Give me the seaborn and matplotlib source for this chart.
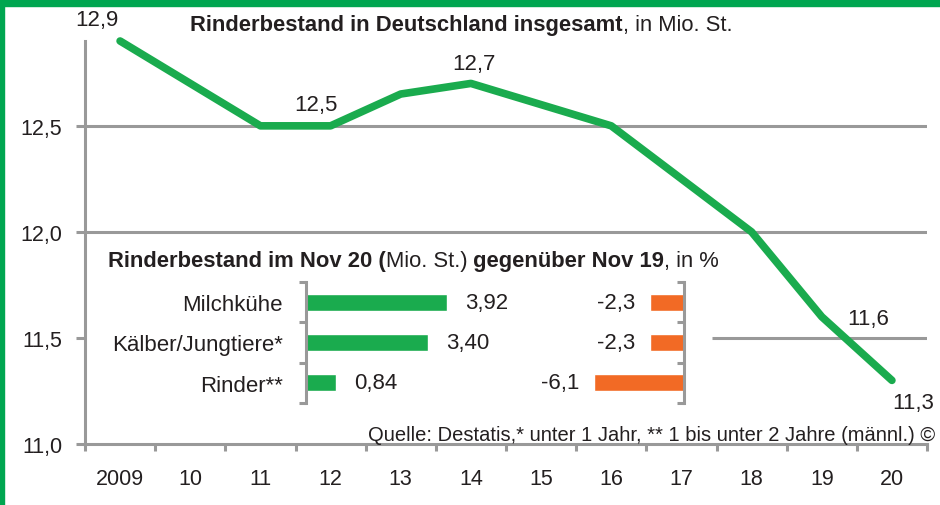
import numpy as np
import pandas as pd
import matplotlib.pyplot as plt
import seaborn as sns
from matplotlib.patches import Rectangle

# ---------------------- DATA ----------------------
years = ["2009", "10", "11", "12", "13", "14", "15", "16", "17", "18", "19", "20"]
bestand = [12.9, 12.7, 12.5, 12.5, 12.65, 12.7, 12.6, 12.5, 12.25, 12.0, 11.6, 11.3]
y_ticks = [11.0, 11.5, 12.0, 12.5]

kategorien = ["Milchkühe", "Kälber/Jungtiere*", "Rinder**"]
bestand_nov20 = [3.92, 3.40, 0.84]
veraenderung = [-2.3, -2.3, -6.1]

GREEN = "#1aab4e"
FRAME = "#00a650"
ORANGE = "#f26a25"
GRAY = "#999999"
TXT = "#231f20"

sns.set_theme(style="white")
plt.rcParams['font.family'] = ['Liberation Sans Narrow', 'DejaVu Sans Condensed',
                               'Liberation Sans', 'DejaVu Sans']
plt.rcParams['text.color'] = TXT

W, H = 940, 506
fs = 15.5     # axis ticks
fs_in = 16    # inset labels / values
fs_title = 15.8


def fmt(v, nd=1):
    return f"{v:.{nd}f}".replace(".", ",")


def rich(ax, x, y, parts, size):
    # x, y in figure pixels (y from top), parts = [(text, weight), ...]
    t = ax.annotate(parts[0][0], xy=(x, H - y), xycoords='figure pixels',
                    fontsize=size, weight=parts[0][1], va='center', ha='left',
                    annotation_clip=False)
    for s, w in parts[1:]:
        t = ax.annotate(s, xy=(1, 0), xycoords=t, fontsize=size, weight=w,
                        va='bottom', ha='left', annotation_clip=False)


fig = plt.figure(figsize=(W / 100, H / 100), dpi=100)

# ---------------------- MAIN LINE CHART ----------------------
ax = fig.add_axes([85 / W, 61 / H, 842 / W, 403 / H])
df = pd.DataFrame({"pos": np.arange(len(years)), "bestand": bestand})
sns.lineplot(data=df, x="pos", y="bestand", color=GREEN, lw=5.5, ax=ax,
             solid_capstyle='round', solid_joinstyle='round', clip_on=False, zorder=5)

ax.set_xlim(-0.5, len(years) - 0.5)
ax.set_ylim(11.0, 12.9)
ax.set_xlabel("")
ax.set_ylabel("")
ax.set_xticks(np.arange(len(years)))
ax.set_xticklabels(years)
ax.set_xticks(np.arange(-0.5, len(years)), minor=True)
ax.set_yticks(y_ticks)
ax.set_yticklabels([fmt(v) for v in y_ticks])
ax.tick_params(axis='x', which='major', length=0, pad=17, labelsize=fs, labelcolor=TXT)
ax.tick_params(axis='x', which='minor', bottom=True, length=5, width=2.2, color=GRAY, direction='out')
ax.tick_params(axis='y', left=True, length=6.5, width=2.2, color=GRAY, pad=10, labelsize=fs, labelcolor=TXT)
for side in ['top', 'right']:
    ax.spines[side].set_visible(False)
for side in ['left', 'bottom']:
    ax.spines[side].set_color(GRAY)
    ax.spines[side].set_linewidth(2.2)

ax.axhline(12.5, color=GRAY, lw=2.2, zorder=1)
ax.axhline(12.0, color=GRAY, lw=2.2, zorder=1)
ax.hlines(11.5, 8.44, len(years) - 0.5, color=GRAY, lw=2.2, zorder=1)

# point labels
label_offsets = {0: (-23, 21), 3: (-15, 21), 5: (3, 20), 10: (46, -2), 11: (21, -22)}
for i, (dx, dy) in label_offsets.items():
    ax.annotate(fmt(bestand[i]), xy=(i, bestand[i]), xytext=(dx, dy),
                textcoords='offset pixels', ha='center', va='center',
                fontsize=fs_in, annotation_clip=False)

# titles
rich(ax, 190, 26, [("Rinderbestand in Deutschland insgesamt", 'bold'), (", in Mio. St.", 'normal')], fs_title)
rich(ax, 108, 262, [("Rinderbestand im Nov 20 (", 'bold'), ("Mio. St.)", 'normal'),
                    (" gegenüber Nov 19", 'bold'), (", in %", 'normal')], fs_title)

ax.annotate("Quelle: Destatis,* unter 1 Jahr, ** 1 bis unter 2 Jahre (männl.) ©",
            xy=(935, H - 441), xycoords='figure pixels', ha='right', va='baseline',
            fontsize=14.5, annotation_clip=False)

# ---------------------- INSET: BESTAND NOV 20 ----------------------
axl = fig.add_axes([306 / W, (H - 404) / H, 162 / W, 121 / H])
sns.barplot(x=bestand_nov20, y=kategorien, orient='h', color=GREEN, saturation=1,
            width=0.42, ax=axl)
axl.set_xlim(0, 4.5)
axl.set_ylim(2.5, -0.5)
axl.patch.set_alpha(0)
axl.set_xticks([])
axl.set_xlabel("")
axl.set_ylabel("")
axl.set_yticks(np.arange(-0.5, 3), minor=True)
axl.tick_params(axis='y', which='major', length=0, pad=16.5, labelsize=fs_in, labelcolor=TXT)
axl.tick_params(axis='y', which='minor', left=True, length=5, width=2.2, color=GRAY, direction='out')
for side in ['top', 'right', 'bottom']:
    axl.spines[side].set_visible(False)
axl.spines['left'].set_color(GRAY)
axl.spines['left'].set_linewidth(2.2)
for i, v in enumerate(bestand_nov20):
    axl.annotate(fmt(v, 2), xy=(v, i), xytext=(18, 0), textcoords='offset pixels',
                 ha='left', va='center', fontsize=fs_in, annotation_clip=False)

# ---------------------- INSET: VERAENDERUNG ----------------------
axr = fig.add_axes([566 / W, (H - 404) / H, 118 / W, 121 / H])
sns.barplot(x=veraenderung, y=kategorien, orient='h', color=ORANGE, saturation=1,
            width=0.42, ax=axr)
axr.set_xlim(-8, 0)
axr.set_ylim(2.5, -0.5)
axr.patch.set_alpha(0)
axr.set_xticks([])
axr.set_xlabel("")
axr.set_ylabel("")
axr.set_yticks([])
axr.set_yticks(np.arange(-0.5, 3), minor=True)
axr.tick_params(axis='y', which='minor', left=False, right=True, length=5, width=2.2,
                color=GRAY, direction='in')
for side in ['top', 'left', 'bottom']:
    axr.spines[side].set_visible(False)
axr.spines['right'].set_color(GRAY)
axr.spines['right'].set_linewidth(2.2)
for i, v in enumerate(veraenderung):
    axr.annotate(fmt(v), xy=(v, i), xytext=(-15, 0), textcoords='offset pixels',
                 ha='right', va='center', fontsize=fs_in, annotation_clip=False)

# ---------------------- FRAME ----------------------
fig.patches.append(Rectangle((0, (H - 7) / H), 1, 7 / H, transform=fig.transFigure,
                             color=FRAME, zorder=0))
fig.patches.append(Rectangle((0, 0), 4 / W, 1, transform=fig.transFigure,
                             color=FRAME, zorder=0))

fig.savefig("out.png", dpi=100, facecolor="white")
